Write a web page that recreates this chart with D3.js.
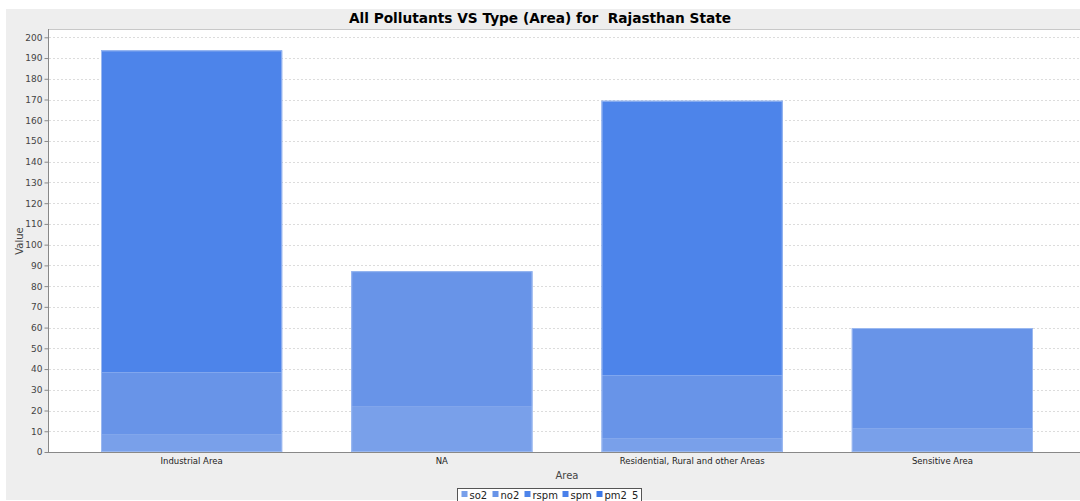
<!DOCTYPE html>
<html>
<head>
<meta charset="utf-8">
<script src="https://cdn.jsdelivr.net/npm/d3@7"></script>
<style>
  body { margin: 0; background: #fff; }
  svg { display: block; font-family: "DejaVu Sans", sans-serif; }
</style>
</head>
<body>
<svg id="chart" width="1080" height="501"></svg>
<script>
// data
const categories = ["Industrial Area", "NA", "Residential, Rural and other Areas", "Sensitive Area"];
const seriesNames = ["so2", "no2", "rspm", "spm", "pm2_5"];
const so2 = [8.3, 21.8, 6.7, 11.2];
const no2 = [30.1, 65.4, 30.2, 48.6];
const rspm = [155.3, 0, 132.5, 0];
const spm = [0, 0, 0, 0];
const pm2_5 = [0, 0, 0, 0];
const yTicks = d3.range(0, 201, 10);
const colors = ["#79a0ea", "#6894e8", "#4d84ea", "#4a80ea", "#3c78e8"];

const svg = d3.select("#chart");
const W = 1080, H = 501;

// gray chart panel
svg.append("rect").attr("x", 6).attr("y", 9).attr("width", W - 6).attr("height", H - 10).attr("fill", "#eeeeee");

svg.append("text")
  .attr("x", 540).attr("y", 23)
  .attr("text-anchor", "middle")
  .attr("font-size", 13.7).attr("font-weight", "bold")
  .attr("fill", "#000")
  .style("white-space", "pre")
  .text("All Pollutants VS Type (Area) for  Rajasthan State");

const pLeft = 48, pTop = 29, pBottom = 452;

svg.append("rect").attr("x", pLeft).attr("y", pTop).attr("width", W - pLeft).attr("height", pBottom - pTop).attr("fill", "#fff");
svg.append("line").attr("x1", pLeft).attr("x2", W).attr("y1", pTop + 0.5).attr("y2", pTop + 0.5).attr("stroke", "#c8c8c8");

const y = d3.scaleLinear().domain([0, 200]).range([pBottom, 37.3]);
const x = d3.scaleBand().domain(categories)
  .range([101, 1033])
  .paddingInner(0.276).paddingOuter(0);

// grid
svg.append("g").selectAll("line").data(yTicks.filter(d => d > 0)).enter().append("line")
  .attr("x1", pLeft + 1).attr("x2", W)
  .attr("y1", d => Math.round(y(d)) + 0.5).attr("y2", d => Math.round(y(d)) + 0.5)
  .attr("stroke", "#dcdcdc").attr("stroke-dasharray", "2,2");

// stacked bars
const rows = categories.map((c, i) => ({ cat: c, so2: so2[i], no2: no2[i], rspm: rspm[i], spm: spm[i], pm2_5: pm2_5[i] }));
const stacked = d3.stack().keys(seriesNames)(rows);

svg.append("g").selectAll("g").data(stacked).enter().append("g")
  .attr("fill", (d, i) => colors[i])
  .selectAll("rect").data(d => d.filter(s => s[1] - s[0] > 0)).enter().append("rect")
  .attr("x", d => x(d.data.cat))
  .attr("width", x.bandwidth())
  .attr("y", d => y(d[1]))
  .attr("height", d => y(d[0]) - y(d[1]));

// light bar outline
const total = d => d.so2 + d.no2 + d.rspm + d.spm + d.pm2_5;
svg.append("g").selectAll("rect").data(rows).enter().append("rect")
  .attr("x", d => x(d.cat) + 0.5)
  .attr("width", x.bandwidth() - 1)
  .attr("y", d => y(total(d)) + 0.5)
  .attr("height", d => pBottom - y(total(d)) - 1)
  .attr("fill", "none").attr("stroke", "#9ab8f0").attr("stroke-width", 1);

// y axis
const yAxis = d3.axisLeft(y).tickValues(yTicks).tickSize(4).tickPadding(2);
const gy = svg.append("g").attr("transform", `translate(${pLeft + 0.5},0)`).call(yAxis);
gy.select(".domain").attr("stroke", "#888").attr("d", `M0,${pTop}V${pBottom}`);
gy.selectAll(".tick line").attr("stroke", "#888");
gy.selectAll(".tick text").attr("font-size", 9).attr("fill", "#444").attr("font-family", "DejaVu Sans, sans-serif");

// x axis
svg.append("line").attr("x1", pLeft).attr("x2", W).attr("y1", pBottom + 0.5).attr("y2", pBottom + 0.5).attr("stroke", "#888");
svg.append("g").selectAll("text").data(categories).enter().append("text")
  .attr("x", d => x(d) + x.bandwidth() / 2).attr("y", 464)
  .attr("text-anchor", "middle").attr("font-size", 8.5).attr("fill", "#222")
  .text(d => d);

svg.append("text").attr("x", 567).attr("y", 479).attr("text-anchor", "middle")
  .attr("font-size", 10).attr("fill", "#444").text("Area");

svg.append("text").attr("transform", "translate(23,241) rotate(-90)")
  .attr("text-anchor", "middle").attr("font-size", 10).attr("fill", "#444").text("Value");

// legend
const lg = svg.append("g").attr("transform", "translate(457.5,488.5)");
lg.append("rect").attr("width", 184).attr("height", 16).attr("fill", "#fff").attr("stroke", "#555");
const itemX = [4, 35, 67, 105, 139];
seriesNames.forEach((s, i) => {
  lg.append("rect").attr("x", itemX[i]).attr("y", 2.5).attr("width", 6).attr("height", 6).attr("fill", colors[i]);
  lg.append("text").attr("x", itemX[i] + 8).attr("y", 10.5).attr("font-size", 10).attr("fill", "#222").text(s);
});
</script>
</body>
</html>
